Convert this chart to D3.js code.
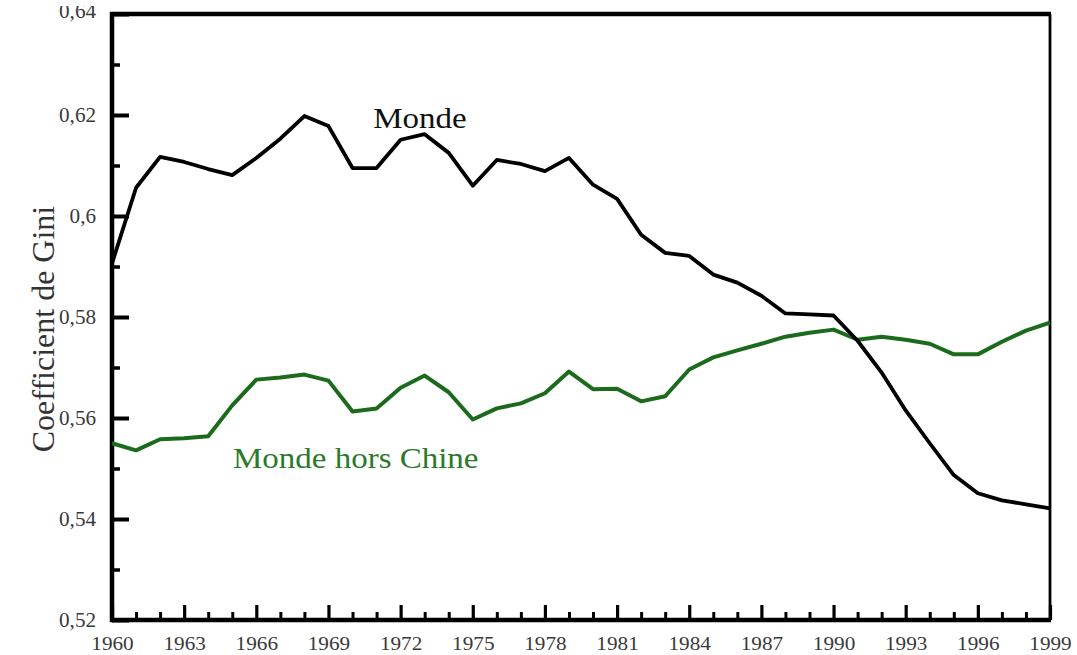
<!DOCTYPE html>
<html>
<head>
<meta charset="utf-8">
<script src="https://cdn.jsdelivr.net/npm/d3@7"></script>
<style>
  html, body { margin: 0; padding: 0; background: #fff; }
  svg { display: block; }
  svg text { font-family: "Liberation Serif", "Times New Roman", serif; }
</style>
</head>
<body>
<svg id="chart" width="1077" height="655"></svg>
<script>
// Gini coefficient, world vs. world excluding China, 1960-1999
const years = d3.range(1960, 2000);

const monde = [
  0.5906, 0.6056, 0.6117, 0.6107, 0.6093, 0.6081, 0.6115, 0.6153, 0.6198, 0.6178,
  0.6095, 0.6095, 0.6151, 0.6162, 0.6125, 0.6060, 0.6111, 0.6103, 0.6089, 0.6115,
  0.6062, 0.6034, 0.5963, 0.5927, 0.5921, 0.5884, 0.5868, 0.5842, 0.5807, 0.5805,
  0.5803, 0.5753, 0.5690, 0.5615, 0.5550, 0.5487, 0.5451, 0.5437, 0.5429, 0.5421
];

const mondeHorsChine = [
  0.5550, 0.5536, 0.5558, 0.5560, 0.5564, 0.5625, 0.5676, 0.5680, 0.5686, 0.5674,
  0.5613, 0.5619, 0.5660, 0.5684, 0.5651, 0.5597, 0.5619, 0.5629, 0.5649, 0.5692,
  0.5657, 0.5658, 0.5633, 0.5643, 0.5696, 0.5720, 0.5734, 0.5747, 0.5761, 0.5769,
  0.5775, 0.5755, 0.5761, 0.5755, 0.5747, 0.5726, 0.5726, 0.5751, 0.5773, 0.5789
];

const yTicksMajor = [0.52, 0.54, 0.56, 0.58, 0.60, 0.62, 0.64];
const yTicksMinor = [0.53, 0.55, 0.57, 0.59, 0.61, 0.63];
const xTicksMajor = d3.range(1960, 2000, 3);
const xTicksMinor = years.filter(v => (v - 1960) % 3 !== 0);

const seriesLabels = ["Monde", "Monde hors Chine"];
const yTitle = "Coefficient de Gini";

const svg = d3.select("#chart");
const plotLeft = 112, plotRight = 1050, plotTop = 14, plotBottom = 620;

const x = d3.scaleLinear().domain([1960, 1999]).range([plotLeft, plotRight]);
const y = d3.scaleLinear().domain([0.52, 0.64]).range([plotBottom, plotTop]);

const frLocale = d3.formatLocale({ decimal: ",", thousands: " ", grouping: [3], currency: ["", " €"] });
const fmtY = frLocale.format(".2~f");

const serif = "Liberation Serif, Times New Roman, serif";

// minor ticks (no labels)
svg.append("g")
  .attr("transform", `translate(${plotLeft},0)`)
  .call(d3.axisLeft(y).tickValues(yTicksMinor).tickSize(-8).tickFormat(""))
  .call(g => g.select(".domain").remove())
  .call(g => g.selectAll("line").style("stroke", "#000").style("stroke-width", 3.5));

svg.append("g")
  .attr("transform", `translate(0,${plotBottom})`)
  .call(d3.axisBottom(x).tickValues(xTicksMinor).tickSize(-8).tickFormat(""))
  .call(g => g.select(".domain").remove())
  .call(g => g.selectAll("line").style("stroke", "#000").style("stroke-width", 3));

// major y axis
const yAxisG = svg.append("g")
  .attr("transform", `translate(${plotLeft},0)`)
  .call(d3.axisLeft(y).tickValues(yTicksMajor).tickSize(-17).tickPadding(15).tickFormat(fmtY))
  .call(g => g.select(".domain").remove())
  .call(g => g.selectAll("line").style("stroke", "#000").style("stroke-width", 4))
  .call(g => g.selectAll("text")
    .attr("x", -15)
    .attr("dy", "0.34em")
    .style("fill", "#3a3a3a")
    .style("font-family", serif)
    .style("font-size", "20px")
    .attr("transform", "scale(1.06,1)"));

// the topmost label sits at the page edge and is partly cut
yAxisG.selectAll(".tick").filter(d => d === 0.64).select("text").attr("y", -3);
svg.append("rect").attr("x", 40).attr("y", 0).attr("width", 70).attr("height", 6).attr("fill", "#fff");

// major x axis
svg.append("g")
  .attr("transform", `translate(0,${plotBottom})`)
  .call(d3.axisBottom(x).tickValues(xTicksMajor).tickSize(-15).tickFormat(d3.format("d")))
  .call(g => g.select(".domain").remove())
  .call(g => g.selectAll("line").style("stroke", "#000").style("stroke-width", 3.2))
  .call(g => g.selectAll("text")
    .attr("y", 30)
    .attr("dy", 0)
    .style("fill", "#3a3a3a")
    .style("font-family", serif)
    .style("font-size", "18px")
    .attr("transform", "scale(1.18,1)"));

// frame
const frame = svg.append("g").style("stroke", "#000").style("fill", "none");
frame.append("line").attr("x1", plotLeft).attr("x2", plotLeft).attr("y1", plotTop - 2).attr("y2", plotBottom + 2).style("stroke-width", 4.5);
frame.append("line").attr("x1", plotLeft - 2).attr("x2", plotRight + 1).attr("y1", plotBottom).attr("y2", plotBottom).style("stroke-width", 4.5);
frame.append("line").attr("x1", plotLeft - 2).attr("x2", plotRight + 1).attr("y1", plotTop).attr("y2", plotTop).style("stroke-width", 4.5);
frame.append("line").attr("x1", plotRight).attr("x2", plotRight).attr("y1", plotTop).attr("y2", plotBottom).style("stroke-width", 2.8);

// series lines
const line = d3.line().x((d, i) => x(years[i])).y(d => y(d));

svg.append("path")
  .datum(mondeHorsChine)
  .attr("d", line)
  .style("fill", "none")
  .style("stroke", "#1c6b1c")
  .style("stroke-width", 4)
  .style("stroke-linejoin", "round");

svg.append("path")
  .datum(monde)
  .attr("d", line)
  .style("fill", "none")
  .style("stroke", "#000")
  .style("stroke-width", 3.8)
  .style("stroke-linejoin", "round");

// series labels
svg.append("text")
  .attr("transform", "translate(420,128) scale(1.1,1)")
  .attr("text-anchor", "middle")
  .style("font-size", "30px")
  .style("fill", "#111")
  .text(seriesLabels[0]);

svg.append("text")
  .attr("transform", "translate(233,468) scale(1.1,1)")
  .attr("text-anchor", "start")
  .style("font-size", "30px")
  .style("fill", "#2a7a2a")
  .text(seriesLabels[1]);

// y axis title
svg.append("text")
  .attr("transform", "translate(54,329) rotate(-90)")
  .attr("text-anchor", "middle")
  .style("font-size", "32px")
  .style("fill", "#333")
  .text(yTitle);
</script>
</body>
</html>
